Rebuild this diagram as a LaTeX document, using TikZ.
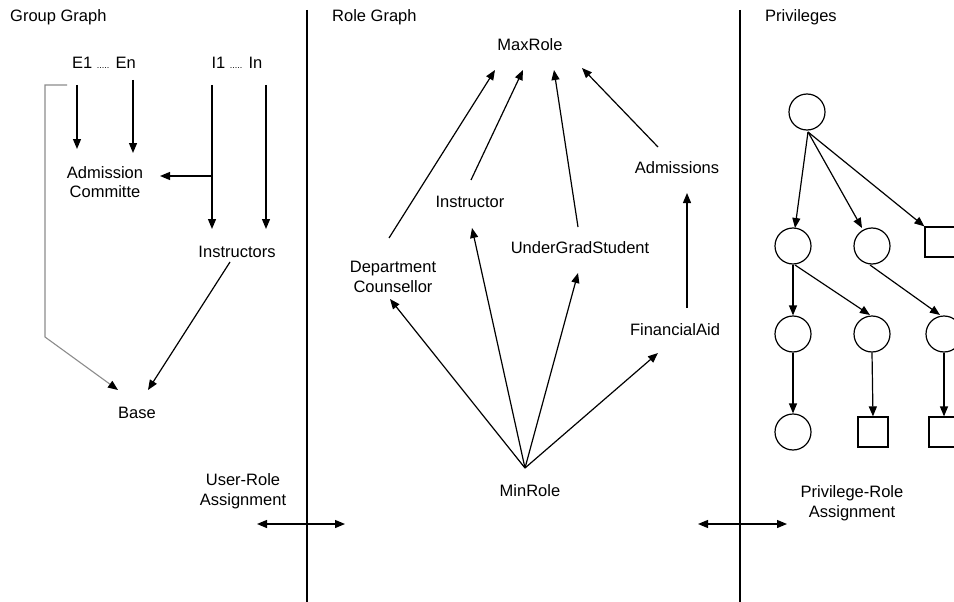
\documentclass[tikz,border=0pt]{standalone}
\usepackage{fontspec}
\setmainfont{Liberation Sans}
\usetikzlibrary{arrows.meta,calc}
\begin{document}
\begin{tikzpicture}[x=1pt,y=-1pt,
  lbl/.style={inner sep=0pt,align=center,font=\fontsize{16.5}{19.5}\selectfont},
  arr/.style={line width=1.2pt,-{Triangle[length=10pt,width=8pt]}},
  garr/.style={line width=1.1pt,draw=black!45,-{Triangle[length=10pt,width=8pt,color=black]}},
  darr/.style={line width=1.2pt,{Triangle[length=10pt,width=8pt]}-{Triangle[length=10pt,width=8pt]}},
  divider/.style={line width=2.4pt},
  pcirc/.style={draw,circle,line width=1.2pt,minimum size=36pt,inner sep=0pt},
  psq/.style={draw,rectangle,line width=1.2pt,minimum size=30pt,inner sep=0pt}]
\useasboundingbox (0,0) rectangle (954,602);
\fill[white] (0,0) rectangle (954,602);

% dividers
\draw[divider] (307,10) -- (307,602);
\draw[divider] (740,10) -- (740,602);

% titles
\node[lbl,anchor=west] (gg) at (10,17) {Group Graph};
\node[lbl,anchor=west] (rg) at (332,17) {Role Graph};
\node[lbl,anchor=west] (pv) at (765,17) {Privileges};

% ---------------- Group graph
\node[lbl] (E) at (104,63) {E1 {\fontsize{9}{10}\selectfont.....} En};
\node[lbl] (I) at (237,63) {I1 {\fontsize{9}{10}\selectfont.....} In};
\node[lbl] (adm) at (105,182) {Admission\\Committe};
\node[lbl] (ins) at (237,252) {Instructors};
\node[lbl] (base) at (137,413) {Base};
\node[lbl] (ura) at (243,491) {User-Role\\Assignment};
\coordinate (jn) at (212,176);

\draw[arr] ($(E)+(-27,22)$) -- ($(adm)+(-28,-33)$);
\draw[arr] ($(E)+(29,17)$) -- ($(adm)+(28,-29)$);
\draw[arr] ($(I)+(-25,22)$) -- ($(ins)+(-25,-23)$);
\draw[arr] ($(I)+(29,22)$) -- ($(ins)+(29,-23)$);
\draw[arr] (jn) -- ($(adm)+(55,-6)$);
\draw[arr] ($(ins)+(-7,10)$) -- ($(base)+(11,-23)$);
\draw[garr] ($(E)+(-37,22)$) -- (45,85) -- (45,337) -- ($(base)+(-19,-23)$);

\draw[darr] ($(ura)+(14,33)$) -- ($(ura)+(102,33)$);

% ---------------- Role graph
\node[lbl] (maxr) at (530,45) {MaxRole};
\node[lbl] (instr) at (470,202) {Instructor};
\node[lbl] (ugs) at (580,248) {UnderGradStudent};
\node[lbl] (dept) at (393,277) {Department\\Counsellor};
\node[lbl] (admis) at (677,168) {Admissions};
\node[lbl] (fin) at (675,330) {FinancialAid};
\node[lbl] (minr) at (530,491) {MinRole};

\draw[arr] ($(dept)+(-4,-39)$) -- ($(maxr)+(-35,25)$);
\draw[arr] ($(instr)+(1,-22)$) -- ($(maxr)+(-7,25)$);
\draw[arr] ($(ugs)+(-2,-21)$) -- ($(maxr)+(24,25)$);
\draw[arr] ($(admis)+(-19,-21)$) -- ($(maxr)+(52,23)$);
\draw[arr] ($(fin)+(12,-22)$) -- ($(admis)+(10,25)$);
\draw[arr] ($(minr)+(-5,-23)$) -- ($(dept)+(-3,22)$);
\draw[arr] ($(minr)+(-5,-23)$) -- ($(instr)+(2,26)$);
\draw[arr] ($(minr)+(-5,-23)$) -- ($(ugs)+(-2,25)$);
\draw[arr] ($(minr)+(-5,-23)$) -- ($(fin)+(-17,23)$);

% ---------------- Privileges
\node[lbl] (pra) at (852,503) {Privilege-Role\\Assignment};
\draw[darr] ($(pra)+(-154,21)$) -- ($(pra)+(-65,21)$);

\begin{scope}
\clip (741,0) rectangle (954,602);
\node[pcirc] (c0) at (807,112) {};
\node[pcirc] (c1) at (793,246) {};
\node[pcirc] (c2) at (872,246) {};
\node[psq]   (s1) at (940,242) {};
\node[pcirc] (c3) at (793,334) {};
\node[pcirc] (c4) at (872,334) {};
\node[pcirc] (c5) at (944,334) {};
\node[pcirc] (c6) at (793,432) {};
\node[psq]   (s2) at (873,432) {};
\node[psq]   (s3) at (944,432) {};

\draw[arr] ($(c0)+(1,20)$) -- ($(c1)+(2,-18)$);
\draw[arr] ($(c0)+(1,20)$) -- ($(c2)+(-10,-18)$);
\draw[arr] ($(c0)+(1,20)$) -- (s1.north west);
\draw[arr] (c1.south) -- (c3.north);
\draw[arr] ($(c1)+(2,19)$) -- ($(c4)+(-2,-19)$);
\draw[arr] ($(c2)+(-2,19)$) -- ($(c5)+(-4,-19)$);
\draw[arr] (c3.south) -- (c6.north);
\draw[arr] (c4.south) -- (s2.north);
\draw[arr] (c5.south) -- (s3.north);
\end{scope}
\end{tikzpicture}
\end{document}
